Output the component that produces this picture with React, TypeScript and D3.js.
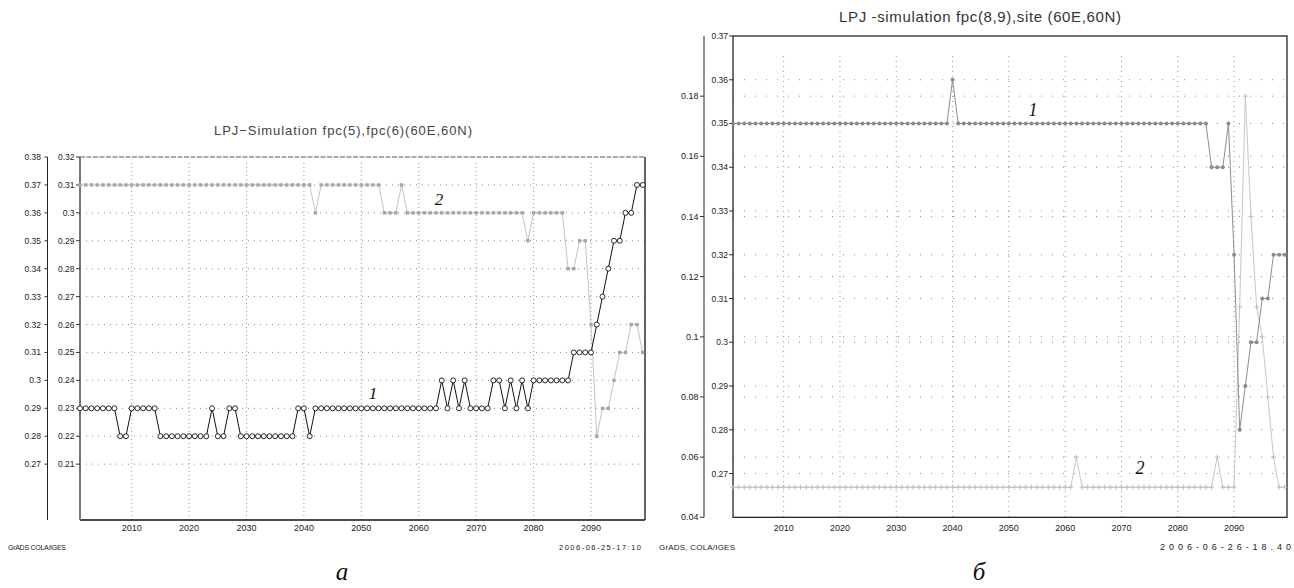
import React from "react";
import * as d3 from "d3";

// yearly values, 2001..2099
const years = d3.range(2001, 2100);

// panel a: curve 1 (black, open circles) and curve 2 (grey squares), inner axis units
const fpcA1 = [
  0.23, 0.23, 0.23, 0.23, 0.23, 0.23, 0.23, 0.22, 0.22, 0.23,
  0.23, 0.23, 0.23, 0.23, 0.22, 0.22, 0.22, 0.22, 0.22, 0.22,
  0.22, 0.22, 0.22, 0.23, 0.22, 0.22, 0.23, 0.23, 0.22, 0.22,
  0.22, 0.22, 0.22, 0.22, 0.22, 0.22, 0.22, 0.22, 0.23, 0.23,
  0.22, 0.23, 0.23, 0.23, 0.23, 0.23, 0.23, 0.23, 0.23, 0.23,
  0.23, 0.23, 0.23, 0.23, 0.23, 0.23, 0.23, 0.23, 0.23, 0.23,
  0.23, 0.23, 0.23, 0.24, 0.23, 0.24, 0.23, 0.24, 0.23, 0.23,
  0.23, 0.23, 0.24, 0.24, 0.23, 0.24, 0.23, 0.24, 0.23, 0.24,
  0.24, 0.24, 0.24, 0.24, 0.24, 0.24, 0.25, 0.25, 0.25, 0.25,
  0.26, 0.27, 0.28, 0.29, 0.29, 0.3, 0.3, 0.31, 0.31,
];
const fpcA2 = [
  0.31, 0.31, 0.31, 0.31, 0.31, 0.31, 0.31, 0.31, 0.31, 0.31,
  0.31, 0.31, 0.31, 0.31, 0.31, 0.31, 0.31, 0.31, 0.31, 0.31,
  0.31, 0.31, 0.31, 0.31, 0.31, 0.31, 0.31, 0.31, 0.31, 0.31,
  0.31, 0.31, 0.31, 0.31, 0.31, 0.31, 0.31, 0.31, 0.31, 0.31,
  0.31, 0.3, 0.31, 0.31, 0.31, 0.31, 0.31, 0.31, 0.31, 0.31,
  0.31, 0.31, 0.31, 0.3, 0.3, 0.3, 0.31, 0.3, 0.3, 0.3,
  0.3, 0.3, 0.3, 0.3, 0.3, 0.3, 0.3, 0.3, 0.3, 0.3,
  0.3, 0.3, 0.3, 0.3, 0.3, 0.3, 0.3, 0.3, 0.29, 0.3,
  0.3, 0.3, 0.3, 0.3, 0.3, 0.28, 0.28, 0.29, 0.29, 0.26,
  0.22, 0.23, 0.23, 0.24, 0.25, 0.25, 0.26, 0.26, 0.25,
];

// panel б: curve 1 on the inner axis, curve 2 on the outer axis
const fpcB1 = [
  0.35, 0.35, 0.35, 0.35, 0.35, 0.35, 0.35, 0.35, 0.35, 0.35,
  0.35, 0.35, 0.35, 0.35, 0.35, 0.35, 0.35, 0.35, 0.35, 0.35,
  0.35, 0.35, 0.35, 0.35, 0.35, 0.35, 0.35, 0.35, 0.35, 0.35,
  0.35, 0.35, 0.35, 0.35, 0.35, 0.35, 0.35, 0.35, 0.35, 0.36,
  0.35, 0.35, 0.35, 0.35, 0.35, 0.35, 0.35, 0.35, 0.35, 0.35,
  0.35, 0.35, 0.35, 0.35, 0.35, 0.35, 0.35, 0.35, 0.35, 0.35,
  0.35, 0.35, 0.35, 0.35, 0.35, 0.35, 0.35, 0.35, 0.35, 0.35,
  0.35, 0.35, 0.35, 0.35, 0.35, 0.35, 0.35, 0.35, 0.35, 0.35,
  0.35, 0.35, 0.35, 0.35, 0.35, 0.34, 0.34, 0.34, 0.35, 0.32,
  0.28, 0.29, 0.3, 0.3, 0.31, 0.31, 0.32, 0.32, 0.32,
];
const fpcB2 = [
  0.05, 0.05, 0.05, 0.05, 0.05, 0.05, 0.05, 0.05, 0.05, 0.05,
  0.05, 0.05, 0.05, 0.05, 0.05, 0.05, 0.05, 0.05, 0.05, 0.05,
  0.05, 0.05, 0.05, 0.05, 0.05, 0.05, 0.05, 0.05, 0.05, 0.05,
  0.05, 0.05, 0.05, 0.05, 0.05, 0.05, 0.05, 0.05, 0.05, 0.05,
  0.05, 0.05, 0.05, 0.05, 0.05, 0.05, 0.05, 0.05, 0.05, 0.05,
  0.05, 0.05, 0.05, 0.05, 0.05, 0.05, 0.05, 0.05, 0.05, 0.05,
  0.05, 0.06, 0.05, 0.05, 0.05, 0.05, 0.05, 0.05, 0.05, 0.05,
  0.05, 0.05, 0.05, 0.05, 0.05, 0.05, 0.05, 0.05, 0.05, 0.05,
  0.05, 0.05, 0.05, 0.05, 0.05, 0.05, 0.06, 0.05, 0.05, 0.05,
  0.11, 0.18, 0.14, 0.11, 0.1, 0.08, 0.06, 0.05, 0.05,
];

const yearTicks = [2010, 2020, 2030, 2040, 2050, 2060, 2070, 2080, 2090];
const ticksA_inner = ["0.21", "0.22", "0.23", "0.24", "0.25", "0.26", "0.27", "0.28", "0.29", "0.3", "0.31", "0.32"];
const ticksA_outer = ["0.27", "0.28", "0.29", "0.3", "0.31", "0.32", "0.33", "0.34", "0.35", "0.36", "0.37", "0.38"];
const ticksB_inner = ["0.27", "0.28", "0.29", "0.3", "0.31", "0.32", "0.33", "0.34", "0.35", "0.36", "0.37"];
const ticksB_outer = ["0.04", "0.06", "0.08", "0.1", "0.12", "0.14", "0.16", "0.18"];

const SANS = "'Liberation Sans', Arial, sans-serif";
const SERIF = "'Liberation Serif', 'Times New Roman', serif";

export default function App() {
  // panel a
  const xA = d3.scaleLinear().domain([2001, 2099.4]).range([80, 645]);
  const yAin = d3.scaleLinear().domain([0.19, 0.32]).range([520, 157]);
  const yAout = d3.scaleLinear().domain([0.25, 0.38]).range([520, 157]);
  const axA = 47.5;

  // panel б
  const xB = d3.scaleLinear().domain([2001, 2099.4]).range([733, 1287]);
  const yBin = d3.scaleLinear().domain([0.26, 0.37]).range([517.3, 36]);
  const yBout = d3.scaleLinear().domain([0.04, 0.2]).range([517.3, 36]);
  const axB = 704;

  const lineA = d3.line<number>().x((_, i) => xA(years[i])).y((d) => yAin(d));
  const lineB1 = d3.line<number>().x((_, i) => xB(years[i])).y((d) => yBin(d));
  const lineB2 = d3.line<number>().x((_, i) => xB(years[i])).y((d) => yBout(d));

  const [a0, a1] = xA.range();
  const [aBot, aTop] = yAin.range();
  const [b0, b1] = xB.range();
  const [bBot, bTop] = yBin.range();

  return (
    <div style={{ position: "absolute", left: 0, top: 0 }}>
      <svg width={1294} height={588} style={{ display: "block", background: "#fff" }}>
        {/* ---------- panel a ---------- */}
        <text x={343} y={135} textAnchor="middle" fontFamily={SANS} fontSize={13}
          fill="#444" textLength={258} lengthAdjust="spacing">
          LPJ−Simulation fpc(5),fpc(6)(60E,60N)
        </text>

        {/* grid */}
        {ticksA_inner.slice(0, -1).map((t) => (
          <line key={"ah" + t} x1={a0} x2={a1} y1={yAin(+t)} y2={yAin(+t)}
            stroke="#8a8a8a" strokeWidth={1} strokeDasharray="1 5" />
        ))}
        {yearTicks.map((t) => (
          <line key={"av" + t} x1={xA(t)} x2={xA(t)} y1={aTop + 6} y2={aBot}
            stroke="#999" strokeWidth={1} strokeDasharray="1 3" />
        ))}

        {/* frame */}
        <line x1={a0} x2={a1} y1={aTop} y2={aTop} stroke="#555" strokeWidth={1.2} strokeDasharray="5 1.5" />
        <line x1={a1} x2={a1} y1={aTop} y2={aBot} stroke="#111" strokeWidth={1.3} />
        <line x1={a0} x2={a1} y1={aBot} y2={aBot} stroke="#111" strokeWidth={1.5} />
        <line x1={a0} x2={a0} y1={aTop} y2={aBot} stroke="#777" strokeWidth={2} />
        <line x1={axA} x2={axA} y1={aTop} y2={aBot} stroke="#222" strokeWidth={1} />

        {ticksA_inner.map((t) => (
          <g key={"ai" + t} transform={`translate(0,${yAin(+t)})`}>
            <line x1={a0 - 4} x2={a0} stroke="#333" />
            <text x={74.5} dy="0.35em" textAnchor="end" fontFamily={SANS} fontSize={8.5} fill="#222">{t}</text>
          </g>
        ))}
        {ticksA_outer.map((t) => (
          <g key={"ao" + t} transform={`translate(0,${yAout(+t)})`}>
            <line x1={axA - 3} x2={axA} stroke="#333" />
            <text x={41} dy="0.35em" textAnchor="end" fontFamily={SANS} fontSize={8.5} fill="#222">{t}</text>
          </g>
        ))}
        {yearTicks.map((t) => (
          <text key={"ax" + t} x={xA(t)} y={531} textAnchor="middle" fontFamily={SANS} fontSize={9} fill="#222">{t}</text>
        ))}

        {/* curve 2 */}
        <path d={lineA(fpcA2) || ""} fill="none" stroke="#c4c4c4" strokeWidth={1} />
        {fpcA2.map((d, i) => (
          <rect key={"a2" + i} x={xA(years[i]) - 1.7} y={yAin(d) - 1.7} width={3.4} height={3.4} fill="#a6a6a6" />
        ))}
        {/* curve 1 */}
        <path d={lineA(fpcA1) || ""} fill="none" stroke="#111" strokeWidth={1} />
        {fpcA1.map((d, i) => (
          <circle key={"a1" + i} cx={xA(years[i])} cy={yAin(d)} r={2.5} fill="#fff" stroke="#111" strokeWidth={0.9} />
        ))}

        <text x={439} y={205} textAnchor="middle" fontFamily={SERIF} fontStyle="italic" fontSize={17} fill="#111">2</text>
        <text x={373} y={399} textAnchor="middle" fontFamily={SERIF} fontStyle="italic" fontSize={17} fill="#111">1</text>

        <text x={8} y={550} fontFamily={SANS} fontSize={7} fill="#222" textLength={58} lengthAdjust="spacing">GrADS  COLA/IGES</text>
        <text x={641} y={550} textAnchor="end" fontFamily={SANS} fontSize={7.5} fill="#222" textLength={82} lengthAdjust="spacing">2006-06-25-17:10</text>
        <text x={342} y={580} textAnchor="middle" fontFamily={SERIF} fontStyle="italic" fontSize={25} fill="#111">а</text>

        {/* ---------- panel б ---------- */}
        <text x={980} y={21.5} textAnchor="middle" fontFamily={SANS} fontSize={15}
          fill="#333" textLength={282} lengthAdjust="spacing">
          LPJ -simulation fpc(8,9),site (60E,60N)
        </text>

        {ticksB_inner.slice(0, -1).map((t) => (
          <line key={"bh" + t} x1={b0} x2={b1} y1={yBin(+t)} y2={yBin(+t)}
            stroke="#888" strokeWidth={1} strokeDasharray="1 10" />
        ))}
        {ticksB_outer.slice(1).map((t) => (
          <line key={"bho" + t} x1={b0} x2={b1} y1={yBout(+t)} y2={yBout(+t)}
            stroke="#888" strokeWidth={1} strokeDasharray="1 10" />
        ))}
        {yearTicks.map((t) => (
          <line key={"bv" + t} x1={xB(t)} x2={xB(t)} y1={bTop + 20} y2={bBot}
            stroke="#999" strokeWidth={1} strokeDasharray="1 4" />
        ))}

        <rect x={b0} y={bTop} width={b1 - b0} height={bBot - bTop} fill="none" stroke="#111" strokeWidth={1.2} />
        <line x1={axB} x2={axB} y1={bTop} y2={bBot} stroke="#222" strokeWidth={1} />

        {ticksB_inner.map((t) => (
          <g key={"bi" + t} transform={`translate(0,${yBin(+t)})`}>
            <line x1={b0 - 4} x2={b0} stroke="#333" />
            <text x={728} dy="0.35em" textAnchor="end" fontFamily={SANS} fontSize={8.5} fill="#222">{t}</text>
          </g>
        ))}
        {ticksB_outer.map((t) => (
          <g key={"bo" + t} transform={`translate(0,${yBout(+t)})`}>
            <line x1={axB - 4} x2={axB} stroke="#333" />
            <text x={698.5} dy="0.35em" textAnchor="end" fontFamily={SANS} fontSize={9} fill="#222">{t}</text>
          </g>
        ))}
        {yearTicks.map((t) => (
          <text key={"bx" + t} x={xB(t)} y={531} textAnchor="middle" fontFamily={SANS} fontSize={9} fill="#222">{t}</text>
        ))}

        {/* curve 2 */}
        <path d={lineB2(fpcB2) || ""} fill="none" stroke="#c8c8c8" strokeWidth={1} />
        {fpcB2.map((d, i) => (
          <path key={"b2" + i} d={`M${xB(years[i]) - 2.5},${yBout(d)}h5M${xB(years[i])},${yBout(d) - 2.5}v5`}
            stroke="#bdbdbd" strokeWidth={1} />
        ))}
        {/* curve 1 */}
        <path d={lineB1(fpcB1) || ""} fill="none" stroke="#8e8e8e" strokeWidth={1} />
        {fpcB1.map((d, i) => (
          <circle key={"b1" + i} cx={xB(years[i])} cy={yBin(d)} r={2} fill="#8a8a8a" />
        ))}

        <text x={1033} y={116} textAnchor="middle" fontFamily={SERIF} fontStyle="italic" fontSize={18} fill="#111">1</text>
        <text x={1140} y={474} textAnchor="middle" fontFamily={SERIF} fontStyle="italic" fontSize={18} fill="#111">2</text>

        <text x={659} y={550} fontFamily={SANS} fontSize={8} fill="#222" textLength={76} lengthAdjust="spacing">GrADS, COLA/IGES</text>
        <text x={1160} y={550} fontFamily={SANS} fontSize={9} fill="#222" textLength={131} lengthAdjust="spacing">2006-06-26-18.40</text>
        <text x={979} y={580} textAnchor="middle" fontFamily={SERIF} fontStyle="italic" fontSize={25} fill="#111">б</text>
      </svg>
    </div>
  );
}
